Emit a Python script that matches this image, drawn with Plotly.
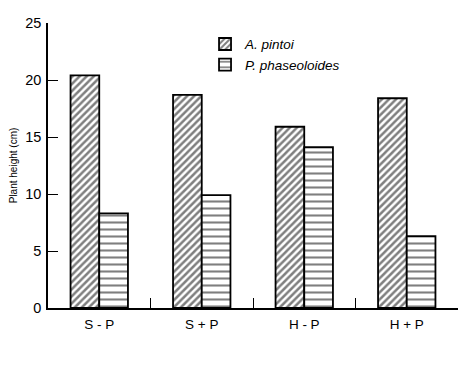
import plotly.graph_objects as go

categories = ["S - P", "S + P", "H - P", "H + P"]
a_pintoi = [20.4, 18.7, 15.9, 18.4]
p_phaseoloides = [8.3, 9.9, 14.1, 6.3]
y_ticks = [0, 5, 10, 15, 20, 25]

fig = go.Figure()
fig.add_trace(go.Bar(
    x=categories, y=a_pintoi, name="A. pintoi",
    marker=dict(color="white", line=dict(color="black", width=1.8),
                pattern=dict(shape="/", fgcolor="black", bgcolor="white", size=5, solidity=0.5)),
))
fig.add_trace(go.Bar(
    x=categories, y=p_phaseoloides, name="P. phaseoloides",
    marker=dict(color="white", line=dict(color="black", width=1.8),
                pattern=dict(shape="-", fgcolor="black", bgcolor="white", size=7, solidity=0.3)),
))

fig.update_layout(
    width=474, height=382,
    margin=dict(l=40, r=24, t=15, b=82, autoexpand=False),
    paper_bgcolor="white", plot_bgcolor="white",
    barmode="group", bargap=0.44, bargroupgap=0,
    font=dict(family="Liberation Sans, Arial, sans-serif", color="black", size=13),
    showlegend=True,
    legend=dict(x=0.383, y=0.98, xanchor="left", yanchor="top",
                font=dict(size=13.5, style="italic"), bgcolor="rgba(0,0,0,0)",
                tracegroupgap=3),
    xaxis=dict(showline=True, linecolor="black", linewidth=1.5, ticks="inside",
               tickson="boundaries", ticklen=10, tickwidth=1.2, tickcolor="black",
               showgrid=False, tickfont=dict(size=13.5), automargin=False,
               ticklabelstandoff=3),
    yaxis=dict(range=[0, 25], tickvals=y_ticks, showline=True, linecolor="black",
               linewidth=1.5, ticks="inside", ticklen=10, tickwidth=1.2, tickcolor="black",
               showgrid=False, zeroline=False, tickfont=dict(size=14.5), automargin=False,
               ticklabelstandoff=2,
               title=dict(text="Plant height (cm)", font=dict(size=10), standoff=16)),
)

fig.write_html("out.html")
